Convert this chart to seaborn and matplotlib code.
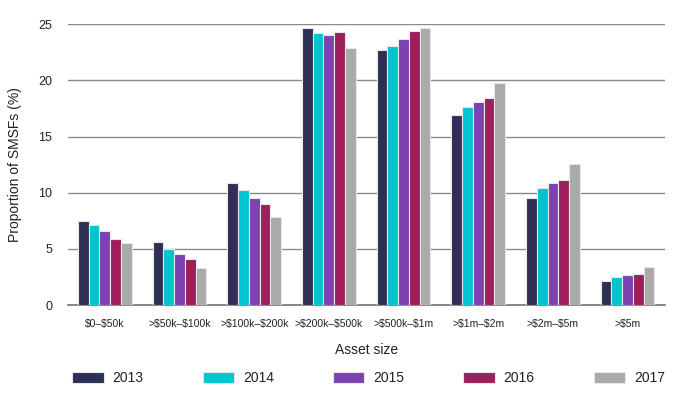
import matplotlib
matplotlib.use('Agg')
import matplotlib.pyplot as plt
import pandas as pd
import seaborn as sns

categories = ['$0–$50k', '>$50k–$100k', '>$100k–$200k', '>$200k–$500k',
              '>$500k–$1m', '>$1m–$2m', '>$2m–$5m', '>$5m']
years = ['2013', '2014', '2015', '2016', '2017']

v2013 = [7.5, 5.6, 10.9, 24.7, 22.7, 16.9, 9.5, 2.1]
v2014 = [7.1, 5.0, 10.2, 24.2, 23.1, 17.6, 10.4, 2.5]
v2015 = [6.6, 4.5, 9.5, 24.0, 23.7, 18.1, 10.9, 2.7]
v2016 = [5.9, 4.1, 9.0, 24.3, 24.4, 18.4, 11.1, 2.8]
v2017 = [5.5, 3.3, 7.8, 22.9, 24.7, 19.8, 12.6, 3.4]

colors = ['#2d2f55', '#00c5d0', '#7a43b0', '#9a1f5c', '#aaaaaa']


def main():
    series = [v2013, v2014, v2015, v2016, v2017]
    rows = []
    for year, vals in zip(years, series):
        for cat, v in zip(categories, vals):
            rows.append({'Asset size': cat, 'Year': year, 'Proportion': v})
    df = pd.DataFrame(rows)

    sns.set_style('white')
    plt.rcParams['font.family'] = ['Liberation Sans', 'DejaVu Sans']
    plt.rcParams['text.parse_math'] = False

    fig = plt.figure(figsize=(6.89, 4.04), dpi=100)
    ax = fig.add_axes([0.098, 0.245, 0.867, 0.695])

    sns.barplot(data=df, x='Asset size', y='Proportion', hue='Year',
                order=categories, hue_order=years, palette=colors,
                saturation=1, width=0.72, edgecolor='#e6e6e6', linewidth=0.8,
                errorbar=None, ax=ax, zorder=3)

    ax.set_ylim(0, 25)
    ax.set_xlim(-0.5, 7.5)
    ax.set_yticks([0, 5, 10, 15, 20, 25])
    ax.yaxis.grid(True, color='#8a8a8a', linewidth=1, zorder=0)
    ax.set_axisbelow(True)
    for s in ['top', 'right', 'left']:
        ax.spines[s].set_visible(False)
    ax.spines['bottom'].set_color('#777777')
    ax.spines['bottom'].set_linewidth(1.2)

    ax.tick_params(axis='y', length=0, pad=11, labelsize=9, labelcolor='#222222')
    ax.tick_params(axis='x', length=0, pad=10, labelsize=7.5, labelcolor='#222222')
    ax.set_xlabel('Asset size', fontsize=10, color='#222222', labelpad=10)
    ax.set_ylabel('Proportion of SMSFs (%)', fontsize=10, color='#222222', labelpad=12)

    handles, labels = ax.get_legend_handles_labels()
    ax.get_legend().remove()
    fig.legend(handles, labels, loc='center', bbox_to_anchor=(0.535, 0.064),
               ncol=5, frameon=False, fontsize=10, handlelength=2.25,
               handleheight=0.87, handletextpad=0.65, columnspacing=4.25,
               labelcolor='#222222')

    fig.savefig('out.png', dpi=100)
    plt.close(fig)


if __name__ == '__main__':
    main()
